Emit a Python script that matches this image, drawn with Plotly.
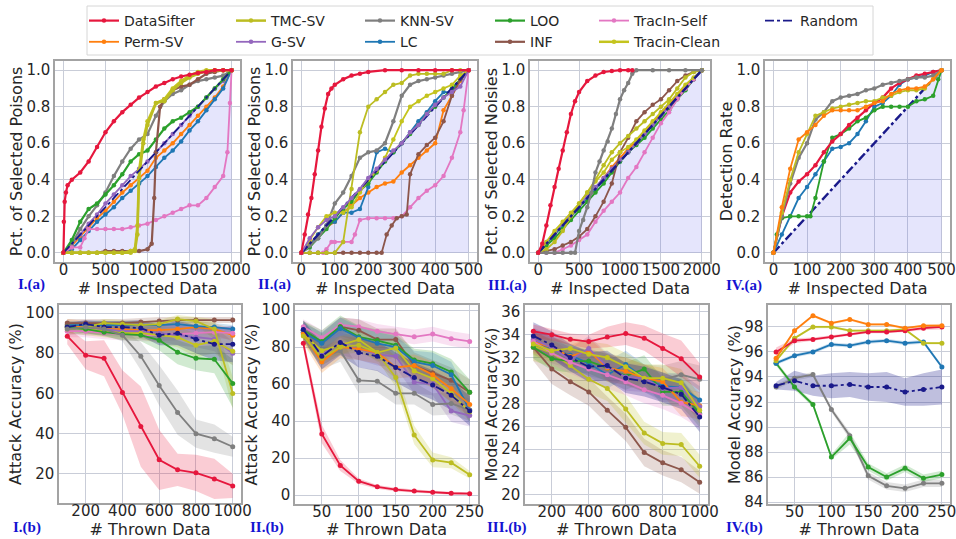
import plotly.graph_objects as go

W, H = 956, 539
FONT = "DejaVu Sans"
TXT = "#262626"
GRID = "#c9cdd8"
FRAME = "#a3a3a3"

# ---------------- series names / colours ----------------
SERIES = ["DataSifter", "Perm-SV", "TMC-SV", "G-SV", "KNN-SV", "LC", "LOO", "INF",
          "TracIn-Self", "Tracin-Clean", "Random"]
COLORS = {"DataSifter": "#e6173d", "Perm-SV": "#ff7f0e", "TMC-SV": "#bcbd22", "G-SV": "#9467bd",
          "KNN-SV": "#7f7f7f", "LC": "#1f77b4", "LOO": "#2ca02c", "INF": "#8c564b",
          "TracIn-Self": "#e377c2", "Tracin-Clean": "#c4c41e", "Random": "#1a1a8a"}
LEGEND_OF = {"DataSifter": "legend", "Perm-SV": "legend", "TMC-SV": "legend2", "G-SV": "legend2",
             "KNN-SV": "legend3", "LC": "legend3", "LOO": "legend4", "INF": "legend4",
             "TracIn-Self": "legend5", "Tracin-Clean": "legend5", "Random": "legend6"}

# ---------------- I.(a)  poisons, 0..2000 inspected ----------------
I_A_X = [0, 100, 200, 300, 400, 500, 600, 700, 800, 900, 1000, 1100, 1200, 1300, 1400, 1500,
         1600, 1700, 1800, 1900, 2000]
I_A_DATASIFTER_X = [0, 5, 15, 30, 50, 100, 200, 300, 400, 500, 600, 700, 800, 900, 1000, 1100,
                    1200, 1300, 1400, 1500, 1600, 1700, 1800, 1900, 2000]
I_A_DATASIFTER = [0, 0.17, 0.28, 0.33, 0.37, 0.40, 0.44, 0.50, 0.58, 0.66, 0.72, 0.77, 0.81, 0.85,
                  0.88, 0.91, 0.93, 0.95, 0.965, 0.975, 0.985, 0.99, 1.0, 1.0, 1.0]
I_A_PERM = [0, 0.04, 0.09, 0.14, 0.19, 0.23, 0.28, 0.33, 0.37, 0.41, 0.45, 0.52, 0.56, 0.6, 0.65,
            0.7, 0.75, 0.8, 0.85, 0.91, 1.0]
I_A_GSV = [0, 0.05, 0.1, 0.16, 0.21, 0.27, 0.32, 0.37, 0.42, 0.46, 0.5, 0.55, 0.6, 0.65, 0.7, 0.75,
           0.8, 0.85, 0.9, 0.94, 1.0]
I_A_LC = [0, 0.02, 0.07, 0.12, 0.17, 0.21, 0.25, 0.3, 0.34, 0.38, 0.42, 0.47, 0.52, 0.56, 0.61,
          0.67, 0.72, 0.78, 0.84, 0.9, 1.0]
I_A_KNN = [0, 0.05, 0.13, 0.2, 0.26, 0.33, 0.42, 0.5, 0.57, 0.62, 0.65, 0.75, 0.83, 0.87, 0.89,
           0.92, 0.94, 0.95, 0.96, 0.97, 1.0]
I_A_LOO = [0, 0.07, 0.17, 0.24, 0.27, 0.32, 0.37, 0.43, 0.5, 0.54, 0.56, 0.62, 0.68, 0.72, 0.74,
           0.77, 0.8, 0.85, 0.9, 0.95, 1.0]
I_A_TMC_X = [0, 100, 200, 300, 400, 500, 600, 700, 800, 850, 880, 900, 950, 1000, 1100, 1200,
             1300, 1400, 1500, 1600, 1700, 1800, 1900, 2000]
I_A_TMC = [0, 0, 0, 0, 0, 0, 0, 0, 0, 0.01, 0.1, 0.41, 0.6, 0.7, 0.82, 0.83, 0.89, 0.93, 0.96,
           0.98, 0.995, 1.0, 1.0, 1.0]
I_A_CLEAN = [0, 0, 0, 0, 0, 0, 0, 0, 0.01, 0.02, 0.15, 0.45, 0.62, 0.72, 0.82, 0.84, 0.9, 0.94,
             0.97, 0.99, 1.0, 1.0, 1.0, 1.0]
I_A_INF_X = [0, 100, 200, 300, 400, 500, 600, 700, 800, 900, 1000, 1050, 1080, 1100, 1150, 1200,
             1300, 1400, 1500, 1600, 1700, 1800, 1900, 2000]
I_A_INF = [0, 0, 0, 0, 0, 0.01, 0.01, 0.01, 0.01, 0.01, 0.02, 0.05, 0.3, 0.55, 0.8, 0.84, 0.89,
           0.91, 0.92, 0.95, 0.98, 0.99, 1.0, 1.0]
I_A_SELF_X = [0, 100, 200, 250, 300, 400, 500, 600, 700, 800, 900, 1000, 1100, 1200, 1300, 1400,
              1500, 1600, 1700, 1800, 1900, 1950, 1980, 2000]
I_A_SELF = [0, 0.03, 0.03, 0.08, 0.13, 0.13, 0.13, 0.13, 0.13, 0.14, 0.15, 0.16, 0.18, 0.2, 0.22,
            0.24, 0.26, 0.26, 0.3, 0.36, 0.42, 0.55, 0.82, 1.0]
I_A_RANDOM_X = [0, 2000]
I_A_RANDOM = [0, 1.0]

# ---------------- II.(a)  poisons, 0..500 inspected ----------------
II_A_X = [0, 25, 50, 75, 100, 125, 150, 175, 200, 225, 250, 275, 300, 325, 350, 375, 400, 425,
          450, 475, 500]
II_A_DATASIFTER_X = [0, 10, 20, 30, 40, 50, 60, 70, 80, 90, 100, 125, 150, 175, 200, 250, 300,
                     350, 400, 450, 500]
II_A_DATASIFTER = [0, 0.1, 0.21, 0.3, 0.43, 0.56, 0.69, 0.79, 0.87, 0.9, 0.92, 0.95, 0.97, 0.98,
                   0.99, 1.0, 1.0, 1.0, 1.0, 1.0, 1.0]
II_A_PERM = [0, 0.05, 0.1, 0.14, 0.17, 0.22, 0.26, 0.3, 0.33, 0.36, 0.38, 0.39, 0.44, 0.48, 0.52,
             0.56, 0.6, 0.78, 0.86, 0.94, 1.0]
II_A_GSV = [0, 0.08, 0.14, 0.18, 0.2, 0.25, 0.3, 0.35, 0.41, 0.46, 0.51, 0.56, 0.6, 0.66, 0.7,
            0.76, 0.81, 0.85, 0.88, 0.91, 1.0]
II_A_LC = [0, 0.04, 0.1, 0.15, 0.17, 0.22, 0.22, 0.24, 0.36, 0.55, 0.57, 0.55, 0.6, 0.66, 0.72,
           0.77, 0.83, 0.88, 0.88, 0.95, 1.0]
II_A_KNN = [0, 0.04, 0.08, 0.15, 0.27, 0.33, 0.42, 0.52, 0.55, 0.56, 0.6, 0.72, 0.86, 0.92, 0.94,
            0.95, 0.96, 0.97, 0.98, 0.99, 1.0]
II_A_LOO = [0, 0.03, 0.08, 0.13, 0.19, 0.24, 0.28, 0.34, 0.38, 0.44, 0.5, 0.55, 0.6, 0.65, 0.7,
            0.76, 0.8, 0.85, 0.9, 0.95, 1.0]
II_A_TMC = [0, 0, 0, 0, 0, 0.06, 0.35, 0.66, 0.8, 0.84, 0.88, 0.92, 0.93, 0.97, 0.98, 0.98, 0.98,
            0.98, 1.0, 1.0, 1.0]
II_A_CLEAN = [0, 0.07, 0.14, 0.2, 0.22, 0.22, 0.25, 0.33, 0.4, 0.45, 0.52, 0.62, 0.72, 0.8, 0.83,
              0.86, 0.88, 0.9, 0.92, 0.97, 1.0]
II_A_INF_X = [0, 25, 50, 75, 100, 125, 150, 175, 200, 225, 240, 255, 270, 285, 300, 315, 325,
              350, 375, 400, 425, 450, 475, 500]
II_A_INF = [0, 0, 0, 0, 0, 0, 0, 0, 0, 0, 0, 0.1, 0.15, 0.19, 0.2, 0.21, 0.43, 0.54, 0.59, 0.63,
            0.72, 0.86, 0.95, 1.0]
II_A_SELF_X = [0, 25, 50, 65, 75, 90, 100, 125, 150, 160, 175, 200, 225, 250, 275, 300, 325, 350,
               375, 400, 425, 450, 475, 485, 500]
II_A_SELF = [0, 0, 0, 0, 0.02, 0.06, 0.06, 0.06, 0.06, 0.1, 0.18, 0.19, 0.19, 0.19, 0.19, 0.2,
             0.25, 0.3, 0.34, 0.37, 0.42, 0.52, 0.66, 0.78, 1.0]
II_A_RANDOM_X = [0, 500]
II_A_RANDOM = [0, 1.0]

# ---------------- III.(a)  noisy labels, 0..2000 inspected ----------------
III_A_X = I_A_X
III_A_DATASIFTER_X = [0, 50, 100, 150, 200, 250, 300, 350, 400, 450, 500, 600, 700, 800, 900,
                      1000, 1100, 1150]
III_A_DATASIFTER = [0, 0.05, 0.15, 0.26, 0.36, 0.46, 0.56, 0.66, 0.76, 0.83, 0.88, 0.94, 0.97,
                    0.99, 0.995, 1.0, 1.0, 1.0]
III_A_PERM = [0, 0.05, 0.1, 0.15, 0.2, 0.25, 0.3, 0.35, 0.41, 0.47, 0.52, 0.57, 0.61, 0.66, 0.71,
              0.76, 0.81, 0.86, 0.91, 0.95, 1.0]
III_A_GSV = [0, 0.06, 0.11, 0.16, 0.21, 0.26, 0.31, 0.36, 0.41, 0.46, 0.51, 0.55, 0.6, 0.65, 0.7,
             0.75, 0.8, 0.85, 0.9, 0.95, 1.0]
III_A_LC = [0, 0.05, 0.1, 0.15, 0.2, 0.25, 0.3, 0.35, 0.4, 0.45, 0.5, 0.55, 0.6, 0.65, 0.7, 0.75,
            0.8, 0.85, 0.9, 0.95, 1.0]
III_A_LOO = [0, 0.04, 0.08, 0.13, 0.18, 0.23, 0.28, 0.33, 0.38, 0.44, 0.5, 0.55, 0.59, 0.63,
             0.68, 0.73, 0.78, 0.84, 0.89, 0.95, 1.0]
III_A_KNN_X = [0, 100, 200, 300, 400, 450, 500, 550, 600, 650, 700, 750, 800, 850, 900, 950, 1000,
               1050, 1100, 1150, 1200, 1400, 1600, 1800, 2000]
III_A_KNN = [0, 0, 0, 0, 0, 0, 0.12, 0.18, 0.25, 0.33, 0.44, 0.5, 0.56, 0.61, 0.68, 0.76, 0.84,
             0.89, 0.93, 0.98, 1.0, 1.0, 1.0, 1.0, 1.0]
III_A_TMC = [0, 0.02, 0.06, 0.12, 0.2, 0.27, 0.33, 0.4, 0.48, 0.55, 0.6, 0.64, 0.68, 0.72, 0.76,
             0.8, 0.84, 0.9, 0.96, 0.99, 1.0]
III_A_CLEAN = [0, 0.06, 0.12, 0.17, 0.22, 0.27, 0.33, 0.39, 0.44, 0.51, 0.55, 0.58, 0.62, 0.67,
               0.72, 0.77, 0.82, 0.87, 0.92, 0.96, 1.0]
III_A_INF = [0, 0.01, 0.02, 0.04, 0.06, 0.09, 0.13, 0.2, 0.28, 0.38, 0.55, 0.63, 0.72, 0.77, 0.81,
             0.84, 0.89, 0.94, 0.97, 0.99, 1.0]
III_A_SELF = [0, 0, 0, 0.02, 0.04, 0.07, 0.1, 0.17, 0.23, 0.28, 0.33, 0.41, 0.47, 0.55, 0.63,
              0.71, 0.77, 0.84, 0.9, 0.95, 1.0]
III_A_RANDOM_X = [0, 2000]
III_A_RANDOM = [0, 1.0]

# ---------------- IV.(a)  detection rate, 0..500 inspected ----------------
IV_A_X = II_A_X
IV_A_DATASIFTER = [0, 0.2, 0.33, 0.39, 0.43, 0.48, 0.55, 0.61, 0.65, 0.7, 0.74, 0.78, 0.82, 0.85,
                   0.9, 0.93, 0.95, 0.97, 0.98, 0.99, 1.0]
IV_A_KNN = [0, 0.2, 0.38, 0.52, 0.6, 0.73, 0.77, 0.83, 0.85, 0.86, 0.87, 0.89, 0.9, 0.92, 0.93,
            0.94, 0.95, 0.96, 0.96, 0.97, 1.0]
IV_A_PERM = [0, 0.25, 0.46, 0.62, 0.66, 0.7, 0.75, 0.78, 0.78, 0.78, 0.78, 0.8, 0.82, 0.83, 0.87,
             0.89, 0.9, 0.9, 0.91, 0.95, 1.0]
IV_A_TMC = [0, 0.22, 0.4, 0.55, 0.65, 0.75, 0.77, 0.79, 0.8, 0.81, 0.82, 0.83, 0.83, 0.85, 0.86,
            0.88, 0.89, 0.89, 0.9, 0.95, 1.0]
IV_A_LC = [0, 0.1, 0.2, 0.3, 0.36, 0.43, 0.5, 0.57, 0.58, 0.6, 0.65, 0.72, 0.8, 0.82, 0.86, 0.92,
           0.95, 0.96, 0.97, 0.99, 1.0]
IV_A_LOO_X = [0, 10, 25, 50, 75, 100, 110, 125, 150, 175, 200, 225, 250, 275, 300, 325, 350, 375,
              400, 425, 450, 475, 490, 500]
IV_A_LOO = [0, 0.1, 0.19, 0.2, 0.2, 0.2, 0.2, 0.3, 0.5, 0.63, 0.65, 0.68, 0.72, 0.74, 0.78, 0.8,
            0.8, 0.8, 0.8, 0.83, 0.84, 0.86, 0.95, 1.0]
IV_A_RANDOM_X = [0, 500]
IV_A_RANDOM = [0, 1.0]

# ---------------- I.(b)  attack accuracy vs thrown data ----------------
I_B_X = [100, 200, 300, 400, 500, 600, 700, 800, 900, 1000]
I_B_DATASIFTER = [88.5, 79, 77.5, 60.5, 43.5, 27, 22, 20.5, 17.5, 14]
I_B_DATASIFTER_SD = [4, 7, 9, 11, 20, 15, 8, 9, 10, 6]
I_B_KNN = [92, 93, 92, 89, 78.5, 64, 50.5, 40, 37.5, 33.5]
I_B_KNN_SD = [3, 3, 3, 3, 7, 10, 11, 7, 7, 5]
I_B_LOO = [93, 92, 90.5, 89.5, 89, 86.5, 80.5, 77.5, 77, 65]
I_B_LOO_SD = [2, 2, 2, 3, 3, 5, 6, 6, 7, 12]
I_B_TMC = [92, 93, 95, 94.5, 94, 94.5, 97, 96, 92, 60]
I_B_TMC_SD = [2, 2, 2, 2, 2, 2, 2, 2, 5, 8]
I_B_CLEAN = [93, 92, 91, 90, 90, 89, 88, 84, 86, 81]
I_B_CLEAN_SD = [3, 3, 3, 3, 3, 4, 5, 6, 6, 7]
I_B_RANDOM = [93, 94.5, 93, 93, 92.5, 89, 90, 87, 84.5, 84.5]
I_B_RANDOM_SD = [2, 2, 3, 3, 4, 5, 6, 7, 8, 9]
I_B_INF = [95, 95, 95, 95, 95.5, 96, 96.5, 96.5, 96.5, 96.5]
I_B_INF_SD = [2, 2, 2, 2, 2, 2, 1.5, 1.5, 1.5, 1.5]
I_B_LC = [94, 94, 94, 94, 94, 94, 94.5, 93.5, 93, 92]
I_B_LC_SD = [2, 2, 2, 2, 2, 2, 2, 2, 2, 2]
I_B_PERM = [94, 93, 92, 92, 91.5, 91.5, 92, 93, 92, 89]
I_B_PERM_SD = [3, 3, 3, 3, 3, 3, 3, 3, 3, 3]
I_B_SELF = [91, 91, 90, 89.5, 89, 89, 89.5, 90, 90.5, 90]
I_B_SELF_SD = [3, 3, 3, 3, 3, 3, 3, 3, 3, 3]
I_B_GSV = [93, 92, 92, 91, 91, 90, 89, 88, 87, 80]
I_B_GSV_SD = [3, 3, 3, 3, 4, 4, 5, 5, 6, 6]

# ---------------- II.(b)  attack accuracy vs thrown data ----------------
II_B_X = [25, 50, 75, 100, 125, 150, 175, 200, 225, 250]
II_B_DATASIFTER = [82, 33, 16, 7.5, 4.5, 3, 2.2, 1.5, 1, 0.8]
II_B_DATASIFTER_SD = [3, 5, 3, 1.5, 1, 1, 0.8, 0.8, 0.8, 0.8]
II_B_SELF = [91, 85, 92, 91, 88.5, 87, 85.5, 87, 84.5, 83]
II_B_SELF_SD = [4, 4, 4, 4, 4, 4, 4, 4, 4, 4]
II_B_INF = [89, 82.5, 91, 89, 84, 84, 70, 66, 62, 55.5]
II_B_INF_SD = [5, 5, 5, 6, 6, 6, 7, 7, 7, 7]
II_B_LOO = [89, 83, 91, 85.5, 83.5, 81, 73, 71, 66.5, 55.5]
II_B_LOO_SD = [5, 6, 6, 6, 6, 6, 6, 7, 7, 7]
II_B_LC = [88, 82, 90, 85, 82, 80, 72, 70, 65, 46]
II_B_LC_SD = [5, 6, 6, 6, 6, 6, 6, 7, 7, 7]
II_B_PERM = [87, 72, 80, 79, 77, 69, 70, 65, 57.5, 49]
II_B_PERM_SD = [5, 6, 6, 6, 6, 6, 6, 7, 7, 7]
II_B_RANDOM = [89.5, 75, 82.5, 77, 75, 69, 63.5, 59.5, 54, 45.5]
II_B_RANDOM_SD = [5, 7, 7, 8, 8, 8, 8, 8, 8, 8]
II_B_TMC = [86, 74, 80, 81, 77, 63.5, 32.5, 19, 17.5, 11]
II_B_TMC_SD = [4, 4, 4, 4, 4, 5, 5, 4, 3, 2]
II_B_CLEAN = [87, 78, 81, 84, 77, 79.5, 67, 63, 55, 45]
II_B_CLEAN_SD = [5, 5, 5, 5, 5, 5, 5, 5, 5, 5]
II_B_KNN = [89, 74, 78, 62, 61.5, 55, 55, 49, 49.5, 46]
II_B_KNN_SD = [5, 6, 6, 7, 6, 6, 6, 6, 6, 6]
II_B_GSV = [88, 76, 82, 79, 76, 75, 61, 60, 45.5, 43]
II_B_GSV_SD = [5, 6, 6, 6, 6, 6, 6, 6, 6, 6]

# ---------------- III.(b)  model accuracy vs thrown data ----------------
III_B_X = I_B_X
III_B_DATASIFTER = [34.3, 34.0, 33.6, 33.4, 33.8, 34.1, 33.7, 32.8, 31.9, 30.3]
III_B_DATASIFTER_SD = [0.6, 0.5, 0.5, 0.6, 0.9, 1.0, 1.1, 1.3, 1.6, 1.2]
III_B_KNN = [33.3, 32.5, 32.0, 31.5, 31.2, 30.8, 30.2, 30.1, 30.5, 30.1]
III_B_KNN_SD = [1.0, 1.0, 1.0, 1.1, 1.2, 1.2, 1.2, 1.2, 1.2, 1.2]
III_B_INF = [32.9, 31.0, 29.9, 29.0, 27.4, 25.9, 23.7, 22.8, 22.2, 21.1]
III_B_INF_SD = [1.2, 1.3, 1.2, 1.2, 1.2, 1.2, 1.2, 1.1, 1.1, 1.0]
III_B_TMC = [33.0, 32.4, 31.3, 30.1, 29.3, 27.5, 25.4, 24.5, 24.4, 22.5]
III_B_TMC_SD = [1.3, 1.2, 1.2, 1.2, 1.1, 1.2, 1.0, 1.0, 1.0, 1.0]
III_B_RANDOM = [33.9, 33.1, 32.0, 31.2, 31.3, 30.2, 29.9, 29.4, 28.8, 26.8]
III_B_RANDOM_SD = [1.2, 1.2, 1.2, 1.3, 1.3, 1.3, 1.3, 1.3, 1.3, 1.3]
III_B_LC = [33.5, 32.8, 32.2, 31.5, 30.5, 31.4, 30.2, 29.5, 29.4, 28.3]
III_B_LC_SD = [1.0, 1.0, 1.0, 1.1, 1.2, 1.2, 1.2, 1.2, 1.2, 1.2]
III_B_LOO = [32.9, 31.9, 31.7, 31.7, 31.1, 30.4, 31.0, 29.0, 29.0, 27.1]
III_B_LOO_SD = [1.0, 1.0, 1.0, 1.1, 1.2, 1.2, 1.2, 1.2, 1.2, 1.2]
III_B_PERM = [33.4, 32.9, 32.1, 32.6, 31.1, 30.8, 30.2, 29.9, 28.1, 27.8]
III_B_PERM_SD = [1.0, 1.0, 1.0, 1.1, 1.2, 1.2, 1.2, 1.2, 1.2, 1.2]
III_B_GSV = [33.6, 32.9, 31.8, 32.8, 31.2, 30.3, 30.2, 29.3, 29.4, 27.7]
III_B_GSV_SD = [1.0, 1.0, 1.0, 1.1, 1.2, 1.2, 1.2, 1.2, 1.2, 1.2]
III_B_SELF = [33.4, 32.4, 31.6, 31.0, 30.5, 29.9, 29.2, 28.7, 28.0, 27.0]
III_B_SELF_SD = [1.0, 1.0, 1.0, 1.1, 1.2, 1.2, 1.2, 1.2, 1.2, 1.2]
III_B_CLEAN = [33.2, 32.6, 32.8, 32.3, 32.0, 31.2, 30.2, 30.2, 29.8, 27.4]
III_B_CLEAN_SD = [1.0, 1.0, 1.0, 1.1, 1.2, 1.2, 1.2, 1.2, 1.2, 1.2]

# ---------------- IV.(b)  model accuracy vs thrown data ----------------
IV_B_X = II_B_X
IV_B_DATASIFTER = [96.0, 96.9, 97.0, 97.2, 97.4, 97.6, 97.6, 97.7, 97.9, 98.0]
IV_B_DATASIFTER_SD = [0.35, 0.2, 0.15, 0.15, 0.1, 0.1, 0.1, 0.1, 0.15, 0.2]
IV_B_PERM = [95.5, 97.7, 98.9, 98.3, 98.6, 98.2, 98.2, 97.9, 98.1, 98.1]
IV_B_PERM_SD = [0.1, 0.1, 0.1, 0.1, 0.1, 0.1, 0.1, 0.1, 0.1, 0.15]
IV_B_TMC = [95.3, 97.1, 98.0, 98.0, 97.7, 97.7, 97.7, 97.8, 96.7, 96.7]
IV_B_TMC_SD = [0.1, 0.1, 0.1, 0.1, 0.1, 0.1, 0.1, 0.1, 0.1, 0.1]
IV_B_LC = [95.1, 95.7, 96.0, 96.6, 96.5, 96.8, 96.9, 96.7, 96.8, 94.8]
IV_B_LC_SD = [0.15, 0.15, 0.15, 0.15, 0.15, 0.15, 0.15, 0.15, 0.15, 0.15]
IV_B_RANDOM = [93.3, 93.7, 93.3, 93.3, 93.4, 93.2, 93.2, 92.8, 93.0, 93.2]
IV_B_RANDOM_SD = [0.3, 0.8, 0.8, 1.0, 1.0, 1.1, 1.2, 1.1, 1.3, 1.4]
IV_B_KNN = [93.2, 93.9, 94.2, 91.4, 89.3, 86.1, 85.3, 85.1, 85.5, 85.5]
IV_B_KNN_SD = [0.2, 0.2, 0.2, 0.2, 0.3, 0.3, 0.3, 0.3, 0.3, 0.3]
IV_B_LOO = [95.1, 93.2, 91.8, 87.6, 89.1, 86.8, 86.0, 86.7, 85.9, 86.2]
IV_B_LOO_SD = [0.2, 0.2, 0.2, 0.2, 0.5, 0.3, 0.3, 0.3, 0.3, 0.3]

# ---------------- panel geometry (pixels) & axes ----------------
PANELS = {
    1: dict(px=(55, 240), py=(61, 262), xr=[-100, 2100], yr=[-0.05, 1.05],
            xt=[0, 500, 1000, 1500, 2000], yt=[0, 0.2, 0.4, 0.6, 0.8, 1.0],
            xtitle="# Inspected Data", ytitle="Pct. of Selected Poisons", label="I.(a)"),
    2: dict(px=(293, 477), py=(61, 262), xr=[-25, 525], yr=[-0.05, 1.05],
            xt=[0, 100, 200, 300, 400, 500], yt=[0, 0.2, 0.4, 0.6, 0.8, 1.0],
            xtitle="# Inspected Data", ytitle="Pct. of Selected Poisons", label="II.(a)"),
    3: dict(px=(530, 710), py=(61, 262), xr=[-100, 2100], yr=[-0.05, 1.05],
            xt=[0, 500, 1000, 1500, 2000], yt=[0, 0.2, 0.4, 0.6, 0.8, 1.0],
            xtitle="# Inspected Data", ytitle="Pct. of Selected Noisies", label="III.(a)"),
    4: dict(px=(765, 950), py=(61, 262), xr=[-25, 525], yr=[-0.05, 1.05],
            xt=[0, 100, 200, 300, 400, 500], yt=[0, 0.2, 0.4, 0.6, 0.8, 1.0],
            xtitle="# Inspected Data", ytitle="Detection Rate", label="IV.(a)"),
    5: dict(px=(59, 241), py=(305, 503), xr=[55, 1045], yr=[5.5, 104],
            xt=[200, 400, 600, 800, 1000], yt=[20, 40, 60, 80, 100],
            xtitle="# Thrown Data", ytitle="Attack Accuracy (%)", label="I.(b)"),
    6: dict(px=(295, 478), py=(305, 504), xr=[13.75, 261.25], yr=[-4.8, 102.7],
            xt=[50, 100, 150, 200, 250], yt=[0, 20, 40, 60, 80, 100],
            xtitle="# Thrown Data", ytitle="Attack Accuracy (%)", label="II.(b)"),
    7: dict(px=(525, 708), py=(305, 504), xr=[55, 1045], yr=[19.2, 36.6],
            xt=[200, 400, 600, 800, 1000], yt=[20, 22, 24, 26, 28, 30, 32, 34, 36],
            xtitle="# Thrown Data", ytitle="Model Accuracy(%)", label="III.(b)"),
    8: dict(px=(768, 950), py=(305, 504), xr=[14, 261], yr=[83.85, 99.75],
            xt=[50, 100, 150, 200, 250], yt=[84, 86, 88, 90, 92, 94, 96, 98],
            xtitle="# Thrown Data", ytitle="Model Accuracy (%)", label="IV.(b)"),
}
LABEL_POS = {1: (32, 284), 2: (274, 284), 3: (507, 285), 4: (744, 285),
             5: (27, 527), 6: (267, 527), 7: (507, 527), 8: (744, 527)}
LEGEND_POS = {"legend": 84, "legend2": 231, "legend3": 360, "legend4": 490,
              "legend5": 594, "legend6": 760}
LEGEND_RANK = {n: i for i, n in enumerate(SERIES)}


def rgba(hexc, a):
    h = hexc.lstrip("#")
    return "rgba(%d,%d,%d,%.3f)" % (int(h[0:2], 16), int(h[2:4], 16), int(h[4:6], 16), a)


def ax_ids(p):
    return ("x" if p == 1 else "x%d" % p), ("y" if p == 1 else "y%d" % p)


fig = go.Figure()
shown = set()


def curve(p, name, x, y, msize=4.5, width=1.8, markers=True):
    xa, ya = ax_ids(p)
    show = name not in shown
    shown.add(name)
    fig.add_trace(go.Scatter(
        x=x, y=y, xaxis=xa, yaxis=ya, name=name,
        mode="lines+markers" if markers else "lines",
        line=dict(color=COLORS[name], width=width,
                  dash="dashdot" if name == "Random" else "solid"),
        marker=dict(size=msize, color=COLORS[name]),
        showlegend=show, legend=LEGEND_OF[name], legendgroup=name,
        legendrank=LEGEND_RANK[name] + 1, hoverinfo="skip"))


def band(p, name, x, mean, sd, alpha=0.22):
    xa, ya = ax_ids(p)
    up = [m + s for m, s in zip(mean, sd)]
    lo = [m - s for m, s in zip(mean, sd)]
    fig.add_trace(go.Scatter(
        x=list(x) + list(x)[::-1], y=up + lo[::-1], xaxis=xa, yaxis=ya,
        fill="toself", fillcolor=rgba(COLORS[name], alpha), line=dict(width=0),
        mode="lines", hoverinfo="skip", showlegend=False))


def shade(p, x, y):
    xa, ya = ax_ids(p)
    fig.add_trace(go.Scatter(x=x, y=y, xaxis=xa, yaxis=ya, fill="tozeroy",
                             fillcolor="rgba(70,70,235,0.14)", line=dict(width=0),
                             mode="lines", hoverinfo="skip", showlegend=False))


# ---- I.(a)
shade(1, I_A_RANDOM_X, I_A_RANDOM)
curve(1, "Perm-SV", I_A_X, I_A_PERM)
curve(1, "G-SV", I_A_X, I_A_GSV)
curve(1, "LC", I_A_X, I_A_LC)
curve(1, "KNN-SV", I_A_X, I_A_KNN, width=2.2)
curve(1, "LOO", I_A_X, I_A_LOO, width=2.2)
curve(1, "TracIn-Self", I_A_SELF_X, I_A_SELF)
curve(1, "INF", I_A_INF_X, I_A_INF, width=2.2)
curve(1, "Tracin-Clean", I_A_TMC_X, I_A_CLEAN, width=2.5)
curve(1, "TMC-SV", I_A_TMC_X, I_A_TMC, width=2.5)
curve(1, "Random", I_A_RANDOM_X, I_A_RANDOM, markers=False)
curve(1, "DataSifter", I_A_DATASIFTER_X, I_A_DATASIFTER, width=2.2)

# ---- II.(a)
shade(2, II_A_RANDOM_X, II_A_RANDOM)
curve(2, "Perm-SV", II_A_X, II_A_PERM)
curve(2, "LC", II_A_X, II_A_LC)
curve(2, "LOO", II_A_X, II_A_LOO)
curve(2, "KNN-SV", II_A_X, II_A_KNN, width=2.2)
curve(2, "TracIn-Self", II_A_SELF_X, II_A_SELF)
curve(2, "INF", II_A_INF_X, II_A_INF)
curve(2, "Tracin-Clean", II_A_X, II_A_CLEAN)
curve(2, "TMC-SV", II_A_X, II_A_TMC)
curve(2, "Random", II_A_RANDOM_X, II_A_RANDOM, markers=False, width=2.4)
curve(2, "G-SV", II_A_X, II_A_GSV)
curve(2, "DataSifter", II_A_DATASIFTER_X, II_A_DATASIFTER, width=2.2)

# ---- III.(a)
shade(3, III_A_RANDOM_X, III_A_RANDOM)
curve(3, "Perm-SV", III_A_X, III_A_PERM)
curve(3, "LC", III_A_X, III_A_LC)
curve(3, "LOO", III_A_X, III_A_LOO)
curve(3, "G-SV", III_A_X, III_A_GSV)
curve(3, "TracIn-Self", III_A_X, III_A_SELF)
curve(3, "INF", III_A_X, III_A_INF)
curve(3, "Tracin-Clean", III_A_X, III_A_CLEAN)
curve(3, "TMC-SV", III_A_X, III_A_TMC)
curve(3, "Random", III_A_RANDOM_X, III_A_RANDOM, markers=False, width=2.4)
curve(3, "KNN-SV", III_A_KNN_X, III_A_KNN, width=2.2)
curve(3, "DataSifter", III_A_DATASIFTER_X, III_A_DATASIFTER, width=2.2)

# ---- IV.(a)
shade(4, IV_A_RANDOM_X, IV_A_RANDOM)
curve(4, "Random", IV_A_RANDOM_X, IV_A_RANDOM, markers=False, width=2.4)
curve(4, "LC", IV_A_X, IV_A_LC)
curve(4, "LOO", IV_A_LOO_X, IV_A_LOO)
curve(4, "DataSifter", IV_A_X, IV_A_DATASIFTER, width=2.2)
curve(4, "KNN-SV", IV_A_X, IV_A_KNN, width=2.2)
curve(4, "TMC-SV", IV_A_X, IV_A_TMC)
curve(4, "Perm-SV", IV_A_X, IV_A_PERM)

# ---- bottom rows
B_SETS = {
    5: (I_B_X, [("Perm-SV", I_B_PERM, I_B_PERM_SD), ("LC", I_B_LC, I_B_LC_SD),
                ("INF", I_B_INF, I_B_INF_SD), ("TracIn-Self", I_B_SELF, I_B_SELF_SD),
                ("G-SV", I_B_GSV, I_B_GSV_SD), ("Tracin-Clean", I_B_CLEAN, I_B_CLEAN_SD),
                ("TMC-SV", I_B_TMC, I_B_TMC_SD), ("LOO", I_B_LOO, I_B_LOO_SD),
                ("Random", I_B_RANDOM, I_B_RANDOM_SD), ("KNN-SV", I_B_KNN, I_B_KNN_SD),
                ("DataSifter", I_B_DATASIFTER, I_B_DATASIFTER_SD)]),
    6: (II_B_X, [("TracIn-Self", II_B_SELF, II_B_SELF_SD), ("INF", II_B_INF, II_B_INF_SD),
                 ("LOO", II_B_LOO, II_B_LOO_SD), ("LC", II_B_LC, II_B_LC_SD),
                 ("G-SV", II_B_GSV, II_B_GSV_SD), ("KNN-SV", II_B_KNN, II_B_KNN_SD),
                 ("Tracin-Clean", II_B_CLEAN, II_B_CLEAN_SD), ("Perm-SV", II_B_PERM, II_B_PERM_SD),
                 ("TMC-SV", II_B_TMC, II_B_TMC_SD), ("Random", II_B_RANDOM, II_B_RANDOM_SD),
                 ("DataSifter", II_B_DATASIFTER, II_B_DATASIFTER_SD)]),
    7: (III_B_X, [("KNN-SV", III_B_KNN, III_B_KNN_SD), ("INF", III_B_INF, III_B_INF_SD),
                  ("TMC-SV", III_B_TMC, III_B_TMC_SD), ("LC", III_B_LC, III_B_LC_SD),
                  ("LOO", III_B_LOO, III_B_LOO_SD), ("Perm-SV", III_B_PERM, III_B_PERM_SD),
                  ("G-SV", III_B_GSV, III_B_GSV_SD), ("TracIn-Self", III_B_SELF, III_B_SELF_SD),
                  ("Tracin-Clean", III_B_CLEAN, III_B_CLEAN_SD),
                  ("Random", III_B_RANDOM, III_B_RANDOM_SD),
                  ("DataSifter", III_B_DATASIFTER, III_B_DATASIFTER_SD)]),
    8: (IV_B_X, [("KNN-SV", IV_B_KNN, IV_B_KNN_SD), ("LOO", IV_B_LOO, IV_B_LOO_SD),
                 ("Random", IV_B_RANDOM, IV_B_RANDOM_SD), ("LC", IV_B_LC, IV_B_LC_SD),
                 ("TMC-SV", IV_B_TMC, IV_B_TMC_SD), ("DataSifter", IV_B_DATASIFTER, IV_B_DATASIFTER_SD),
                 ("Perm-SV", IV_B_PERM, IV_B_PERM_SD)]),
}
for p, (bx, items) in B_SETS.items():
    for name, m, sd in items:
        band(p, name, bx, m, sd, alpha=0.28 if name == "Random" else 0.22)
    for name, m, sd in items:
        curve(p, name, bx, m, msize=5, width=1.8)

# ---------------- layout ----------------
layout = dict(width=W, height=H, margin=dict(l=0, r=0, t=0, b=0, autoexpand=False),
              paper_bgcolor="white", plot_bgcolor="white",
              font=dict(family=FONT, color=TXT, size=15), showlegend=True)

for p, cfg in PANELS.items():
    xk = "xaxis" if p == 1 else "xaxis%d" % p
    yk = "yaxis" if p == 1 else "yaxis%d" % p
    xa, ya = ax_ids(p)
    common = dict(showgrid=True, gridcolor=GRID, gridwidth=1, showline=True, mirror=True,
                  linecolor=FRAME, linewidth=1.5, zeroline=False, ticks="",
                  ticklabeloverflow="allow",
                  tickfont=dict(size=15, family=FONT, color=TXT))
    layout[xk] = dict(common, domain=[cfg["px"][0] / W, cfg["px"][1] / W], range=cfg["xr"],
                      tickvals=cfg["xt"], anchor=ya, ticklabelstandoff=-7,
                      title=dict(text=cfg["xtitle"], font=dict(size=16, family=FONT, color=TXT),
                                 standoff=0))
    layout[yk] = dict(common, domain=[1 - cfg["py"][1] / H, 1 - cfg["py"][0] / H],
                      range=cfg["yr"], tickvals=cfg["yt"], anchor=xa,
                      tickformat=".1f" if p <= 4 else "d",
                      title=dict(text=cfg["ytitle"], font=dict(size=16, family=FONT, color=TXT),
                                 standoff=0))

for lg, xpx in LEGEND_POS.items():
    layout[lg] = dict(x=xpx / W, y=1 - 5 / H, xanchor="left", yanchor="top",
                      orientation="v", bgcolor="rgba(0,0,0,0)", borderwidth=0,
                      font=dict(size=14, family=FONT, color=TXT), tracegroupgap=0)

annotations = []
for p, (lx, ly) in LABEL_POS.items():
    annotations.append(dict(x=lx / W, y=1 - ly / H, xref="paper", yref="paper",
                            text="<b>%s</b>" % PANELS[p]["label"], showarrow=False,
                            font=dict(family="Liberation Serif", size=15, color="#1414d2"),
                            xanchor="center", yanchor="middle"))
layout["annotations"] = annotations
layout["shapes"] = [dict(type="rect", xref="paper", yref="paper", x0=87 / W, x1=873 / W,
                         y0=1 - 55 / H, y1=1 - 6 / H, line=dict(color="#d6d6d6", width=1),
                         fillcolor="rgba(0,0,0,0)", layer="below")]

fig.update_layout(**layout)
fig.write_html("out.html", config={"displayModeBar": False},
               post_script="document.body.style.margin='0px';")
